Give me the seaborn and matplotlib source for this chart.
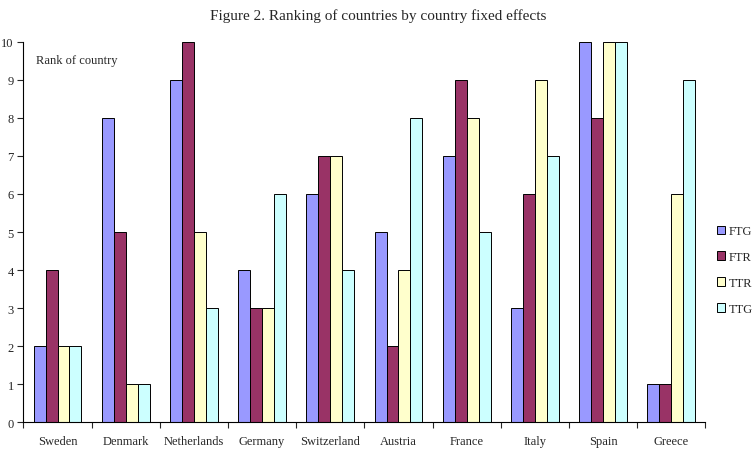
import pandas as pd
import numpy as np
import matplotlib.pyplot as plt
import seaborn as sns

countries = ["Sweden", "Denmark", "Netherlands", "Germany", "Switzerland",
             "Austria", "France", "Italy", "Spain", "Greece"]
FTG = [2, 8, 9, 4, 6, 5, 7, 3, 10, 1]
FTR = [4, 5, 10, 3, 7, 2, 9, 6, 8, 1]
TTR = [2, 1, 5, 3, 7, 4, 8, 9, 10, 6]
TTG = [2, 1, 3, 6, 4, 8, 5, 7, 10, 9]
series = ["FTG", "FTR", "TTR", "TTG"]
colors = ["#9999FF", "#993366", "#FFFFCC", "#CCFFFF"]

data = pd.DataFrame({"country": countries, "FTG": FTG, "FTR": FTR, "TTR": TTR, "TTG": TTG})
data = data.melt(id_vars="country", var_name="series", value_name="rank")

sns.set_style("white")
plt.rcParams["font.family"] = ["Liberation Serif", "DejaVu Serif"]

fig = plt.figure(figsize=(7.56, 4.52), dpi=100)
ax = fig.add_axes([0.031, 0.064, 0.902, 0.841])

sns.barplot(data=data, x="country", y="rank", hue="series", hue_order=series,
            palette=colors, width=0.7, edgecolor="black", linewidth=0.7,
            saturation=1, ax=ax)

ax.set_ylim(0, 10)
ax.set_xlim(-0.5, 9.5)
ax.set_yticks(range(0, 11))
ax.set_xticks(np.arange(-0.5, 10, 1), minor=True)
ax.tick_params(axis="x", which="major", length=0, labelsize=9, pad=9)
ax.tick_params(axis="x", which="minor", length=4, width=0.8, direction="out", bottom=True)
ax.tick_params(axis="y", length=4, width=0.8, direction="out", left=True, labelsize=9, pad=3)
ax.set_xlabel("")
ax.set_ylabel("")
for s in ["top", "right"]:
    ax.spines[s].set_visible(False)
for s in ["left", "bottom"]:
    ax.spines[s].set_color("black")
    ax.spines[s].set_linewidth(0.8)

ax.text(0.018, 0.945, "Rank of country", transform=ax.transAxes, fontsize=9)
fig.text(0.5, 0.965, "Figure 2. Ranking of countries by country fixed effects",
         ha="center", va="center", fontsize=11)

ax.legend(title=None, loc="center left", bbox_to_anchor=(1.0, 0.4), frameon=False,
          fontsize=9, handlelength=0.7, handleheight=0.7, handletextpad=0.3,
          labelspacing=1.1)

fig.savefig("out.png", dpi=100)
